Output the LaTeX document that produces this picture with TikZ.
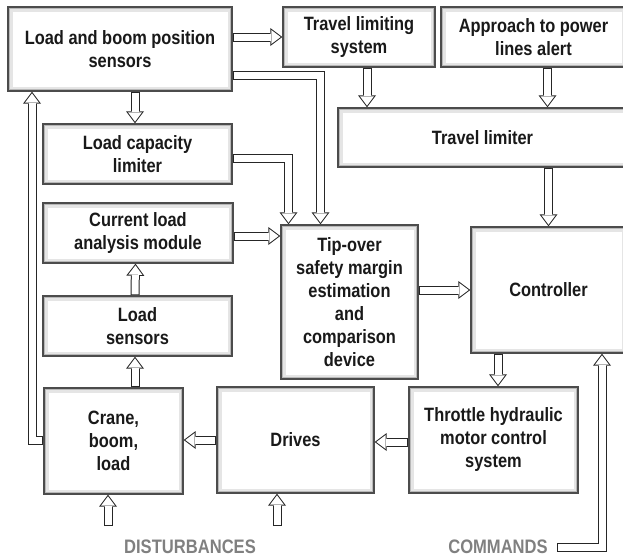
\documentclass[tikz,border=0pt]{standalone}
\usepackage{fontspec}
\setmainfont{Liberation Sans}[FakeStretch=0.85]
\usetikzlibrary{arrows.meta,backgrounds}
\begin{document}
\begin{tikzpicture}[x=1pt, y=-1pt, font=\bfseries\fontsize{19.3}{23}\selectfont,
    box/.style={draw=black!70, line width=1.4pt, fill=white, align=center,
        text=black!90, inner sep=0pt,
        path picture={
            \draw[black!10, line width=9pt] (path picture bounding box.south west) rectangle (path picture bounding box.north east);
            \draw[black!28, line width=3.5pt] (path picture bounding box.south west) rectangle (path picture bounding box.north east);}},
    hollow/.style={preaction={draw=black!85, line width=9pt, shorten >=0pt, shorten <=0pt,
            -{Triangle[length=12pt, width=18pt, line width=0pt]}},
        draw=white, line width=7pt, shorten >=1.67pt, shorten <=1pt,
        -{Triangle[length=9.33pt, width=14pt, line width=0pt]}},
    note/.style={text=black!50, font=\bfseries\fontsize{19.5}{21}\selectfont}]
        \useasboundingbox (0,0) rectangle (623,557);

        \node[box, minimum width=224pt, minimum height=84pt]
        (sensors) at (120,49) {Load and boom position\\sensors};
        \node[box, minimum width=152pt, minimum height=60pt]
        (travelsys) at (359,37) {Travel limiting\\system};
        \node[box, minimum width=185pt, minimum height=60pt]
        (powerlines) at (533.5,37) {Approach to power\\lines alert};
        \node[box, minimum width=289pt, minimum height=59pt]
        (travellim) at (482.5,137.5) {Travel limiter};
        \node[box, minimum width=189pt, minimum height=60pt]
        (capacity) at (137.5,154) {Load capacity\\limiter};
        \node[box, minimum width=190pt, minimum height=60pt]
        (analysis) at (138,233) {Current load\\analysis module};
        \node[box, minimum width=189pt, minimum height=60pt]
        (loadsens) at (137.5,326) {Load\\sensors};
        \node[box, minimum width=137pt, minimum height=154pt]
        (tipover) at (349.5,302) {Tip-over\\safety margin\\estimation\\and\\comparison\\device};
        \node[box, minimum width=155pt, minimum height=126pt]
        (controller) at (548.5,290) {Controller};
        \node[box, minimum width=139pt, minimum height=106pt]
        (crane) at (113.5,441) {Crane,\\boom,\\load};
        \node[box, minimum width=157pt, minimum height=106pt]
        (drives) at (295.5,440) {Drives};
        \node[box, minimum width=169pt, minimum height=106pt]
        (throttle) at (493.5,440) {Throttle hydraulic\\motor control\\system};

        \node[note] (disturb) at (190,547) {DISTURBANCES};
        \node[note] (commands) at (498,547) {COMMANDS};
        \coordinate (dist1) at (108,526);
        \coordinate (dist2) at (277,526);

        \begin{pgfonlayer}{background}
        \draw[hollow] (sensors.east |- travelsys.west) -- (travelsys.west);
        \draw[hollow] ([xshift=15pt]sensors.south) -- ([xshift=15pt]sensors.south |- capacity.north);
        \draw[hollow] ([yshift=-26.5pt]sensors.east) -| ([xshift=-29pt]tipover.north);
        \draw[hollow] ([yshift=-4pt]capacity.east) -| ([xshift=-61pt]tipover.north);
        \draw[hollow] ([yshift=-3pt]analysis.east) -- ([yshift=-3pt]analysis.east -| tipover.west);
        \draw[hollow] ([xshift=-2.5pt]loadsens.north) -- ([xshift=-2.5pt]analysis.south);
        \draw[hollow] ([xshift=-2.5pt]loadsens.south |- crane.north) -- ([xshift=-2.5pt]loadsens.south);
        \draw[hollow] ([yshift=1pt]crane.west) -| ([xshift=-88pt]sensors.south);
        \draw[hollow] (drives.west) -- (drives.west -| crane.east);
        \draw[hollow] ([yshift=-2pt]throttle.west) -- ([yshift=-2pt]throttle.west -| drives.east);
        \draw[hollow] ([xshift=4.5pt]throttle.north |- controller.south) -- ([xshift=4.5pt]throttle.north);
        \draw[hollow] (tipover.east |- controller.west) -- (controller.west);
        \draw[hollow] ([xshift=8pt]travelsys.south) -- ([xshift=8pt]travelsys.south |- travellim.north);
        \draw[hollow] ([xshift=14pt]powerlines.south) -- ([xshift=14pt]powerlines.south |- travellim.north);
        \draw[hollow] (controller.north |- travellim.south) -- (controller.north);
        \draw[hollow] ([xshift=6pt]commands.east) -| ([xshift=53.5pt]controller.south);
        \draw[hollow] (dist1) -- (dist1 |- crane.south);
        \draw[hollow] (dist2) -- (dist2 |- drives.south);
        \end{pgfonlayer}
    \end{tikzpicture}
\end{document}
